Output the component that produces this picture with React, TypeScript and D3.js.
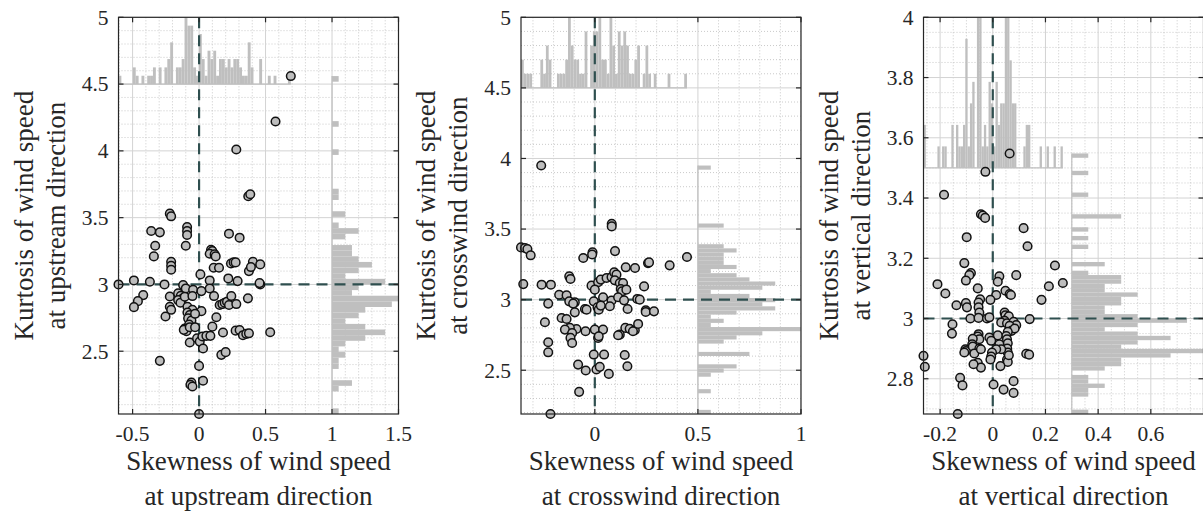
import React from "react";
import * as d3 from "d3";

// ---------------- data ----------------
const upSkew = [0.69, 0.575, 0.28, 0.37, 0.385, -0.22, -0.21, -0.36, -0.295, -0.09, -0.09, -0.09, -0.1, -0.33, -0.34, 0.225, 0.305, 0.09, 0.1, 0.08, 0.117, 0.125, -0.21, -0.21, -0.21, 0.11, 0.15, 0.24, 0.26, 0.275, 0.405, 0.46, 0.375, 0.39, 0.01, 0.22, 0.29, 0.08, 0.46, 0.455, -0.606, -0.49, -0.37, -0.26, -0.12, -0.1, -0.045, 0.0175, 0.08, -0.42, -0.46, -0.49, -0.22, -0.1575, -0.1375, -0.125, -0.1575, -0.14, -0.1075, -0.05, -0.0875, -0.05, -0.22, -0.21, -0.2525, 0.0175, -0.0875, -0.07, -0.0825, -0.0575, -0.075, -0.03, -0.1075, -0.095, -0.115, -0.07, -0.03, -0.07, -0.015, 0.005, 0.03, 0.025, 0.055, 0.085, 0.1125, 0.155, 0.175, 0.1925, 0.21, 0.225, 0.2425, 0.28, 0.3675, 0.13, 0.1, 0.18, 0.275, 0.305, 0.33, 0.355, 0.375, 0.535, 0.1675, 0.2, -0.295, 0.0, 0.03, -0.0575, -0.065, -0.05, 0.0];
const upKurt = [4.56, 4.22, 4.01, 3.66, 3.675, 3.53, 3.51, 3.4, 3.39, 3.43, 3.4, 3.37, 3.29, 3.29, 3.21, 3.38, 3.35, 3.26, 3.25, 3.23, 3.225, 3.21, 3.17, 3.14, 3.11, 3.125, 3.125, 3.157, 3.165, 3.165, 3.17, 3.15, 3.1, 3.13, 3.075, 3.045, 3.025, 3.03, 3.0, 3.01, 3.0, 3.03, 3.02, 3.0, 2.995, 2.97, 2.96, 2.95, 2.97, 2.92, 2.875, 2.83, 2.91, 2.933, 2.915, 2.895, 2.883, 2.863, 2.908, 2.913, 2.833, 2.81, 2.833, 2.81, 2.76, 2.8, 2.79, 2.77, 2.746, 2.73, 2.7, 2.78, 2.67, 2.65, 2.66, 2.68, 2.68, 2.565, 2.597, 2.572, 2.52, 2.61, 2.615, 2.615, 2.913, 2.846, 2.853, 2.863, 2.87, 2.846, 2.913, 2.853, 2.896, 2.754, 2.684, 2.64, 2.654, 2.659, 2.62, 2.63, 2.634, 2.642, 2.473, 2.493, 2.428, 2.39, 2.279, 2.266, 2.249, 2.236, 2.03];

const crossSkew = [-0.26, 0.082, 0.082, -0.358, -0.339, -0.327, -0.311, -0.011, -0.013, 0.098, -0.056, 0.447, 0.363, 0.258, 0.263, 0.195, 0.15, -0.124, -0.118, -0.347, -0.258, -0.213, -0.016, 0.016, 0.029, 0.057, 0.081, 0.094, 0.105, 0.097, 0.121, 0.137, 0.239, 0.126, 0.132, 0.153, -0.173, -0.137, 0.0, 0.04, 0.081, 0.113, 0.142, 0.206, 0.218, -0.226, -0.124, -0.097, -0.105, -0.005, -0.048, -0.04, 0.013, 0.019, 0.029, 0.073, 0.159, 0.247, 0.247, 0.287, -0.161, -0.137, -0.242, -0.097, -0.089, -0.121, -0.145, -0.11, -0.045, 0.0, 0.04, 0.016, 0.019, 0.148, 0.169, 0.194, 0.21, 0.121, 0.113, 0.185, -0.118, -0.11, -0.226, -0.226, -0.005, 0.045, 0.145, 0.158, -0.081, -0.044, 0.008, 0.024, 0.068, -0.076, -0.215];
const crossKurt = [3.95, 3.538, 3.519, 3.37, 3.366, 3.358, 3.314, 3.335, 3.32, 3.344, 3.295, 3.302, 3.243, 3.259, 3.264, 3.224, 3.229, 3.165, 3.146, 3.11, 3.106, 3.106, 3.099, 3.123, 3.142, 3.153, 3.16, 3.193, 3.177, 3.137, 3.118, 3.118, 3.094, 3.075, 3.059, 3.071, 3.035, 3.031, 3.071, 3.017, 2.993, 3.017, 2.995, 3.005, 3.0, 2.972, 2.988, 2.981, 2.972, 2.988, 2.934, 2.929, 2.946, 2.929, 2.958, 2.953, 2.934, 2.925, 2.913, 2.917, 2.87, 2.863, 2.84, 2.91, 2.792, 2.8, 2.788, 2.764, 2.776, 2.788, 2.788, 2.729, 2.741, 2.8, 2.793, 2.783, 2.828, 2.752, 2.748, 2.776, 2.729, 2.693, 2.698, 2.627, 2.611, 2.611, 2.608, 2.528, 2.54, 2.498, 2.505, 2.524, 2.474, 2.347, 2.19];

const vertSkew = [0.064, -0.028, -0.185, -0.045, -0.038, -0.029, 0.117, -0.099, 0.132, 0.236, -0.108, -0.083, -0.089, -0.102, 0.025, 0.019, 0.089, -0.21, -0.18, 0.266, 0.213, 0.048, 0.064, 0.069, 0.013, -0.057, -0.048, -0.054, -0.054, -0.051, -0.009, 0.185, -0.138, -0.102, -0.098, -0.085, -0.054, -0.022, -0.013, 0.045, 0.048, 0.054, 0.061, 0.045, 0.032, 0.054, 0.079, 0.089, 0.064, 0.071, 0.083, 0.057, 0.051, 0.054, 0.057, 0.055, 0.057, 0.054, 0.057, 0.061, 0.14, -0.153, -0.155, 0.019, -0.013, -0.006, 0.025, 0.032, 0.013, -0.003, -0.006, -0.009, -0.054, -0.057, -0.051, -0.076, -0.078, -0.104, -0.102, -0.108, -0.076, -0.051, -0.07, -0.045, -0.057, -0.045, -0.073, 0.029, 0.127, 0.138, -0.263, -0.258, -0.124, -0.115, 0.003, 0.041, 0.079, 0.079, -0.133];
const vertKurt = [3.548, 3.487, 3.411, 3.346, 3.342, 3.334, 3.3, 3.27, 3.24, 3.176, 3.184, 3.151, 3.144, 3.126, 3.14, 3.122, 3.144, 3.114, 3.083, 3.118, 3.107, 3.092, 3.081, 3.078, 3.078, 3.1, 3.064, 3.053, 3.037, 3.02, 3.062, 3.062, 3.044, 3.051, 3.037, 3.0, 3.002, 3.0, 3.004, 3.02, 3.011, 2.998, 3.007, 2.992, 2.987, 2.984, 2.989, 2.978, 2.976, 2.959, 2.967, 2.956, 2.942, 2.931, 2.918, 2.9, 2.887, 2.864, 2.856, 2.878, 2.998, 2.981, 2.95, 2.944, 2.937, 2.926, 2.914, 2.898, 2.898, 2.887, 2.874, 2.864, 2.948, 2.94, 2.931, 2.933, 2.914, 2.898, 2.892, 2.887, 2.907, 2.9, 2.884, 2.898, 2.853, 2.837, 2.848, 2.842, 2.883, 2.88, 2.876, 2.84, 2.803, 2.778, 2.781, 2.764, 2.792, 2.753, 2.683];

const upXTicks = [-0.5, 0, 0.5, 1, 1.5];
const upXTickLabels = ["-0.5", "0", "0.5", "1", "1.5"];
const upYTicks = [2.5, 3, 3.5, 4, 4.5, 5];
const upYTickLabels = ["2.5", "3", "3.5", "4", "4.5", "5"];
const crossXTicks = [0, 0.5, 1];
const crossXTickLabels = ["0", "0.5", "1"];
const crossYTicks = [2.5, 3, 3.5, 4, 4.5, 5];
const crossYTickLabels = ["2.5", "3", "3.5", "4", "4.5", "5"];
const vertXTicks = [-0.2, 0, 0.2, 0.4, 0.6];
const vertXTickLabels = ["-0.2", "0", "0.2", "0.4", "0.6"];
const vertYTicks = [2.8, 3, 3.2, 3.4, 3.6, 3.8, 4];
const vertYTickLabels = ["2.8", "3", "3.2", "3.4", "3.6", "3.8", "4"];

const xTitles = [
  ["Skewness of wind speed", "at upstream direction"],
  ["Skewness of wind speed", "at crosswind direction"],
  ["Skewness of wind speed", "at vertical direction"],
];
const yTitles = [
  ["Kurtosis of wind speed", "at upstream direction"],
  ["Kurtosis of wind speed", "at crosswind direction"],
  ["Kurtosis of wind speed", "at vertical direction"],
];

// axis limits / histogram placement (axes settings)
const xMaxes = [1.5, 1, 0.8];
const yMaxes = [5, 5, 4];
const topHistBases = [4.5, 4.5, 3.5];
const rightHistBases = [1, 0.5, 0.3];
const minorSteps = [0.1, 0.1, 0.05];
const N_BINS = 60;

// ---------------- layout ----------------
const LEFTS = [118.5, 521, 923.5];
const PW = 280;
const TOP = 17.3;
const BOTTOM = 414;
const FONT = "'Liberation Serif', 'Times New Roman', serif";
const TXT = "#262626";
const HIST = "#bfbfbf";
const DASH = "#2f4f4f";
const TICK_FS = 21.5;
const TITLE_FS = 27;

function binsOf(values: number[]) {
  const [lo, hi] = d3.extent(values) as [number, number];
  const thr = d3.range(1, N_BINS).map((i) => lo + (i * (hi - lo)) / N_BINS);
  return d3.bin().domain([lo, hi]).thresholds(thr)(values);
}

function Panel(props: any) {
  const { idx, xs, ys, xTicks, xTickLabels, yTicks, yTickLabels } = props;
  const left = LEFTS[idx];
  const right = left + PW;
  const xMin = d3.min(xs) as number;
  const yMin = d3.min(ys) as number;
  const xMax = xMaxes[idx];
  const yMax = yMaxes[idx];
  const x = d3.scaleLinear().domain([xMin, xMax]).range([left, right]);
  const y = d3.scaleLinear().domain([yMin, yMax]).range([BOTTOM, TOP]);
  const step = minorSteps[idx];
  const eps = 1e-6;
  const minorX = d3
    .range(Math.ceil(xMin / step - eps), Math.floor(xMax / step + eps) + 1)
    .map((i) => i * step)
    .filter((v) => !xTicks.some((t: number) => Math.abs(t - v) < eps));
  const minorY = d3
    .range(Math.ceil(yMin / step - eps), Math.floor(yMax / step + eps) + 1)
    .map((i) => i * step)
    .filter((v) => !yTicks.some((t: number) => Math.abs(t - v) < eps));

  const topBase = topHistBases[idx];
  const rightBase = rightHistBases[idx];
  const topSpan = yMax - topBase;
  const rightSpan = xMax - rightBase;
  const xb = binsOf(xs);
  const yb = binsOf(ys);
  const xMaxC = d3.max(xb, (b) => b.length) as number;
  const yMaxC = d3.max(yb, (b) => b.length) as number;
  const [xLo, xHi] = d3.extent(xs) as [number, number];
  const [yLo, yHi] = d3.extent(ys) as [number, number];
  const clipId = `clip${idx}`;
  const cx = (left + right) / 2;
  const cy = (TOP + BOTTOM) / 2;
  const TL = 5;

  return (
    <g>
      <defs>
        <clipPath id={clipId}>
          <rect x={left} y={TOP} width={PW} height={BOTTOM - TOP} />
        </clipPath>
      </defs>
      <rect x={left} y={TOP} width={PW} height={BOTTOM - TOP} fill="#fff" />
      <g clipPath={`url(#${clipId})`}>
        {minorX.map((v, i) => (
          <line key={"mx" + i} x1={x(v)} x2={x(v)} y1={TOP} y2={BOTTOM} stroke="#bdbdbd" strokeWidth={0.8} strokeDasharray="1 2" />
        ))}
        {minorY.map((v, i) => (
          <line key={"my" + i} x1={left} x2={right} y1={y(v)} y2={y(v)} stroke="#bdbdbd" strokeWidth={0.8} strokeDasharray="1 2" />
        ))}
        {xTicks.map((v: number, i: number) => (
          <line key={"gx" + i} x1={x(v)} x2={x(v)} y1={TOP} y2={BOTTOM} stroke="#d3d3d3" strokeWidth={1} />
        ))}
        {yTicks.map((v: number, i: number) => (
          <line key={"gy" + i} x1={left} x2={right} y1={y(v)} y2={y(v)} stroke="#d3d3d3" strokeWidth={1} />
        ))}
        {/* top histogram of skewness */}
        {xb.filter((b) => b.length > 0).map((b, i) => {
          const yTop = y(topBase + (b.length / xMaxC) * topSpan);
          return (
            <rect key={"tb" + i} x={x(b.x0 as number)} width={Math.max(0.5, x(b.x1 as number) - x(b.x0 as number))} y={yTop} height={y(topBase) - yTop} fill={HIST} />
          );
        })}
        <line x1={x(xLo)} x2={x(xHi)} y1={y(topBase)} y2={y(topBase)} stroke={HIST} strokeWidth={1.2} />
        {/* right histogram of kurtosis */}
        {yb.filter((b) => b.length > 0).map((b, i) => {
          const x0 = x(rightBase);
          const x1 = x(rightBase + (b.length / yMaxC) * rightSpan);
          return (
            <rect key={"rb" + i} x={x0} width={x1 - x0} y={y(b.x1 as number)} height={Math.max(0.5, y(b.x0 as number) - y(b.x1 as number))} fill={HIST} />
          );
        })}
        <line x1={x(rightBase)} x2={x(rightBase)} y1={y(yLo)} y2={y(yHi)} stroke={HIST} strokeWidth={1.2} />
        {/* reference lines */}
        <line x1={x(0)} x2={x(0)} y1={TOP} y2={BOTTOM} stroke={DASH} strokeWidth={2.2} strokeDasharray="11 7" />
        <line x1={left} x2={right} y1={y(3)} y2={y(3)} stroke={DASH} strokeWidth={2.2} strokeDasharray="11 7" />
      </g>
      {/* points */}
      {xs.map((v: number, i: number) => (
        <circle key={"p" + i} cx={x(v)} cy={y(ys[i])} r={4.3} fill="#bdbdbd" stroke="#111" strokeWidth={1.5} />
      ))}
      {/* box and ticks */}
      <rect x={left} y={TOP} width={PW} height={BOTTOM - TOP} fill="none" stroke={TXT} strokeWidth={1.2} />
      {xTicks.map((v: number, i: number) => (
        <g key={"xt" + i}>
          <line x1={x(v)} x2={x(v)} y1={BOTTOM} y2={BOTTOM - TL} stroke={TXT} strokeWidth={1.2} />
          <line x1={x(v)} x2={x(v)} y1={TOP} y2={TOP + TL} stroke={TXT} strokeWidth={1.2} />
          <text x={x(v)} y={441} textAnchor="middle" fontSize={TICK_FS} fontFamily={FONT} fill={TXT}>
            {xTickLabels[i]}
          </text>
        </g>
      ))}
      {yTicks.map((v: number, i: number) => (
        <g key={"yt" + i}>
          <line x1={left} x2={left + TL} y1={y(v)} y2={y(v)} stroke={TXT} strokeWidth={1.2} />
          <line x1={right} x2={right - TL} y1={y(v)} y2={y(v)} stroke={TXT} strokeWidth={1.2} />
          <text x={left - 10} y={y(v)} dy="0.34em" textAnchor="end" fontSize={TICK_FS} fontFamily={FONT} fill={TXT}>
            {yTickLabels[i]}
          </text>
        </g>
      ))}
      {/* axis titles */}
      <text x={cx} y={470} textAnchor="middle" fontSize={TITLE_FS} fontFamily={FONT} fill={TXT}>
        {xTitles[idx][0]}
      </text>
      <text x={cx} y={505} textAnchor="middle" fontSize={TITLE_FS} fontFamily={FONT} fill={TXT}>
        {xTitles[idx][1]}
      </text>
      <text transform={`translate(${left - 86},${cy}) rotate(-90)`} textAnchor="middle" fontSize={TITLE_FS} fontFamily={FONT} fill={TXT}>
        {yTitles[idx][0]}
      </text>
      <text transform={`translate(${left - 54},${cy}) rotate(-90)`} textAnchor="middle" fontSize={TITLE_FS} fontFamily={FONT} fill={TXT}>
        {yTitles[idx][1]}
      </text>
    </g>
  );
}

export default function App() {
  return (
    <svg
      width={1203}
      height={511}
      style={{ position: "absolute", left: 0, top: 0, background: "#fff" }}
    >
      <rect x={0} y={0} width={1203} height={511} fill="#fff" />
      <Panel idx={0} xs={upSkew} ys={upKurt} xTicks={upXTicks} xTickLabels={upXTickLabels} yTicks={upYTicks} yTickLabels={upYTickLabels} />
      <Panel idx={1} xs={crossSkew} ys={crossKurt} xTicks={crossXTicks} xTickLabels={crossXTickLabels} yTicks={crossYTicks} yTickLabels={crossYTickLabels} />
      <Panel idx={2} xs={vertSkew} ys={vertKurt} xTicks={vertXTicks} xTickLabels={vertXTickLabels} yTicks={vertYTicks} yTickLabels={vertYTickLabels} />
    </svg>
  );
}
